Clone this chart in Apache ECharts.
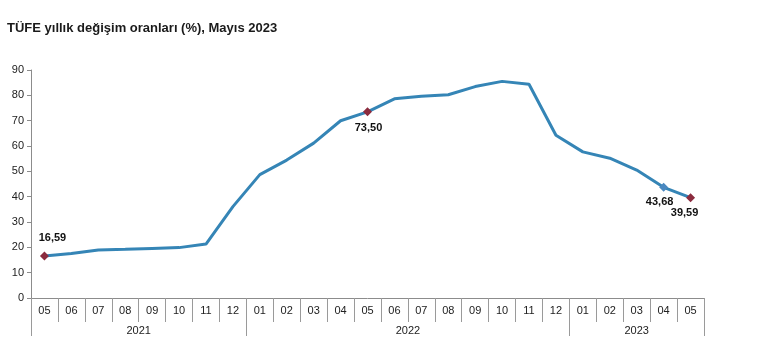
<!DOCTYPE html>
<html><head><meta charset="utf-8">
<script src="https://cdn.jsdelivr.net/npm/echarts@6/dist/echarts.min.js"></script>
<style>html,body{margin:0;padding:0;background:#fff}#c{width:758px;height:356px}</style>
</head><body><div id="c"></div>
<script>
const title = 'TÜFE yıllık değişim oranları (%), Mayıs 2023';
const months = ['05','06','07','08','09','10','11','12','01','02','03','04','05','06','07','08','09','10','11','12','01','02','03','04','05'];
const values = [16.59,17.53,18.95,19.25,19.58,19.89,21.31,36.08,48.69,54.44,61.14,69.97,73.50,78.62,79.60,80.21,83.45,85.51,84.39,64.27,57.68,55.18,50.51,43.68,39.59];
const years = ['2021','2022','2023'];
const yearBounds = [0, 8, 20, 25];
const yearCenters = [4, 14, 22.5];
const labelled = [0, 12, 23, 24];

const fmt = v => v.toFixed(2).replace('.', ',');
const markStyle = {
  0:  {color:'#8B2B3E', pos:'top', off:[8,-3]},
  12: {color:'#8B2B3E', pos:'bottom', off:[1,1]},
  23: {color:'#4A88C0', pos:'bottom', off:[-4,0]},
  24: {color:'#8B2B3E', pos:'bottom', off:[-6,0]}
};
const data = values.map((v,i) => {
  if (labelled.indexOf(i) < 0) return {value:v, symbol:'none'};
  const s = markStyle[i];
  return {value:v, symbol:'diamond', symbolSize:9, itemStyle:{color:s.color},
    label:{show:true, position:s.pos, offset:s.off, formatter:()=>fmt(v),
      fontFamily:'Liberation Sans, Arial', fontWeight:'bold', fontSize:11, color:'#111'}};
});

const chart = echarts.init(document.getElementById('c'));
chart.setOption({
  animation:false,
  title:{text:title, left:7, top:22, padding:0, textStyle:{fontFamily:'Liberation Sans, Arial', fontWeight:'bold', fontSize:13, color:'#1a1a1a'}},
  grid:{left:31, right:54, top:70, bottom:58, containLabel:false},
  xAxis:[{
    type:'category', data:months, boundaryGap:true, position:'bottom',
    axisLine:{show:true, lineStyle:{color:'#8c8c8c', width:1}},
    axisTick:{show:true, interval:0, length:24, alignWithLabel:false, lineStyle:{color:'#9a9a9a'}},
    axisLabel:{interval:0, margin:7, fontFamily:'Liberation Sans, Arial', fontSize:11, color:'#222'},
    splitLine:{show:false}
  },{
    type:'value', min:0, max:25, position:'bottom',
    axisLine:{show:false},
    axisTick:{show:true, customValues:yearBounds, length:38, lineStyle:{color:'#9a9a9a'}},
    axisLabel:{show:true, customValues:yearCenters, margin:27,
      formatter:v=>years[yearCenters.indexOf(v)] || '',
      fontFamily:'Liberation Sans, Arial', fontSize:11, color:'#222'},
    splitLine:{show:false}
  }],
  yAxis:{
    type:'value', min:0, max:90, interval:10,
    axisLine:{show:true, lineStyle:{color:'#8c8c8c'}},
    axisTick:{show:true, length:4, lineStyle:{color:'#8c8c8c'}},
    axisLabel:{margin:7, fontFamily:'Liberation Sans, Arial', fontSize:11, color:'#222'},
    splitLine:{show:false}
  },
  series:[{
    type:'line', data:data, xAxisIndex:0, symbol:'none', showSymbol:true,
    lineStyle:{color:'#3585B6', width:3},
    itemStyle:{color:'#3585B6'}, z:3
  }]
});
</script></body></html>
